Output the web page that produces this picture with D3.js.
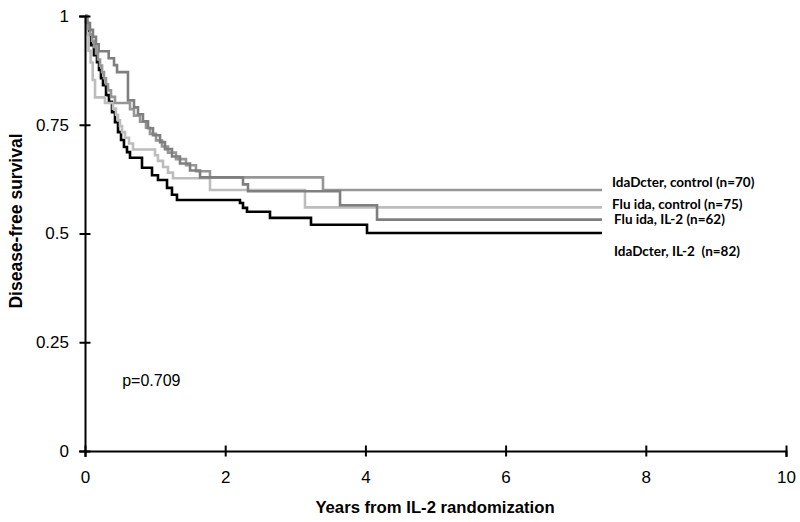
<!DOCTYPE html>
<html>
<head>
<meta charset="utf-8">
<script src="https://cdn.jsdelivr.net/npm/d3@7"></script>
<style>
  html, body { margin: 0; padding: 0; background: #fff; }
  svg { display: block; }
</style>
</head>
<body>
<svg id="chart" width="800" height="522"></svg>
<script>
// ---- Data ----
const xTicks = [0, 2, 4, 6, 8, 10];
const yTicks = [0, 0.25, 0.5, 0.75, 1];
const yTickLabels = ["0", "0.25", "0.5", "0.75", "1"];

const seriesNames = ["IdaDcter, control (n=70)", "Flu ida, control (n=75)", "Flu ida, IL-2 (n=62)", "IdaDcter, IL-2  (n=82)"];

// IdaDcter, IL-2 (n=82)
const idaIl2Time = [0, 0.029, 0.057, 0.086, 0.128, 0.171, 0.200, 0.228, 0.257, 0.300, 0.342, 0.385, 0.428, 0.471, 0.514, 0.556, 0.599, 0.642, 0.813, 0.956, 1.041, 1.170, 1.241, 1.312, 2.211, 2.254, 2.311, 2.639, 3.224, 4.023, 7.375];
const idaIl2Surv = [1, 0.979, 0.956, 0.933, 0.910, 0.894, 0.876, 0.857, 0.841, 0.818, 0.803, 0.779, 0.756, 0.733, 0.715, 0.699, 0.687, 0.674, 0.651, 0.634, 0.623, 0.605, 0.589, 0.577, 0.570, 0.559, 0.550, 0.536, 0.520, 0.501, 0.501];

// Flu ida, control (n=75)
const fluCtrlTime = [0, 0.02, 0.05, 0.08, 0.11, 0.143, 0.285, 0.399, 0.442, 0.471, 0.499, 0.528, 0.571, 0.628, 0.685, 0.999, 1.041, 1.113, 1.184, 1.255, 1.783, 3.138, 7.375];
const fluCtrlSurv = [1, 0.96, 0.92, 0.893, 0.853, 0.813, 0.800, 0.787, 0.773, 0.760, 0.747, 0.733, 0.720, 0.707, 0.693, 0.680, 0.667, 0.653, 0.640, 0.627, 0.600, 0.560, 0.560];

// IdaDcter, control (n=70)
const idaCtrlTime = [0, 0.014, 0.043, 0.071, 0.100, 0.128, 0.157, 0.185, 0.214, 0.243, 0.271, 0.300, 0.328, 0.371, 0.428, 0.642, 0.699, 0.785, 0.870, 0.927, 1.013, 1.098, 1.184, 1.298, 1.441, 1.583, 1.783, 3.395, 7.375];
const idaCtrlSurv = [1, 0.986, 0.971, 0.957, 0.943, 0.929, 0.914, 0.900, 0.886, 0.871, 0.857, 0.843, 0.829, 0.814, 0.800, 0.786, 0.771, 0.757, 0.743, 0.729, 0.714, 0.700, 0.686, 0.671, 0.657, 0.643, 0.629, 0.600, 0.600];

// Flu ida, IL-2 (n=62)
const fluIl2Time = [0, 0.029, 0.071, 0.114, 0.157, 0.195, 0.338, 0.414, 0.457, 0.613, 0.699, 0.756, 0.827, 0.899, 0.970, 1.070, 1.141, 1.241, 1.355, 1.498, 1.641, 2.254, 2.325, 3.638, 4.166, 7.375];
const fluIl2Surv = [1, 0.984, 0.968, 0.952, 0.935, 0.919, 0.903, 0.887, 0.871, 0.806, 0.790, 0.774, 0.758, 0.742, 0.726, 0.710, 0.694, 0.677, 0.661, 0.645, 0.629, 0.613, 0.597, 0.565, 0.532, 0.532];

const pValueText = "p=0.709";

// ---- Build ----
const svg = d3.select("#chart");
const x = d3.scaleLinear().domain([0, 10]).range([85, 786]);
const y = d3.scaleLinear().domain([0, 1]).range([451, 16]);

const curves = [
  { name: seriesNames[3], t: idaIl2Time, s: idaIl2Surv, color: "#000000" },
  { name: seriesNames[1], t: fluCtrlTime, s: fluCtrlSurv, color: "#bdbdbd" },
  { name: seriesNames[0], t: idaCtrlTime, s: idaCtrlSurv, color: "#969696" },
  { name: seriesNames[2], t: fluIl2Time, s: fluIl2Surv, color: "#7f7f7f" }
];

const line = d3.line().x(d => x(d[0])).y(d => y(d[1])).curve(d3.curveStepAfter);

curves.forEach(c => {
  const pts = c.t.map((t, i) => [t, c.s[i]]);
  svg.append("path")
    .attr("d", line(pts))
    .attr("fill", "none")
    .attr("stroke", c.color)
    .attr("stroke-width", 2.6)
    .attr("stroke-linejoin", "miter");
});

// Axes
const xAxis = svg.append("g").attr("transform", `translate(0,${y(0)})`)
  .call(d3.axisBottom(x).tickValues(xTicks).tickFormat(d3.format("d")).tickSize(6).tickPadding(14));
xAxis.select(".domain").attr("stroke", "#000").attr("stroke-width", 2);
xAxis.selectAll(".tick line").attr("y1", -5.5).attr("y2", 5.5).attr("stroke", "#000").attr("stroke-width", 2);
xAxis.selectAll(".tick text").attr("font-family", "Liberation Sans, Arial, sans-serif").attr("font-size", 17).attr("fill", "#000");

const yAxis = svg.append("g").attr("transform", `translate(${x(0)},0)`)
  .call(d3.axisLeft(y).tickValues(yTicks).tickFormat((d, i) => yTickLabels[i]).tickSize(6).tickPadding(10));
yAxis.select(".domain").attr("stroke", "#000").attr("stroke-width", 2);
yAxis.selectAll(".tick line").attr("x1", -5.5).attr("x2", 5.5).attr("stroke", "#000").attr("stroke-width", 2);
yAxis.selectAll(".tick text").attr("font-family", "Liberation Sans, Arial, sans-serif").attr("font-size", 17).attr("fill", "#000");

// Axis titles
svg.append("text")
  .attr("x", 435).attr("y", 513)
  .attr("text-anchor", "middle")
  .attr("font-family", "Liberation Sans, Arial, sans-serif")
  .attr("font-weight", "bold").attr("font-size", 16.7)
  .text("Years from IL-2 randomization");

svg.append("text")
  .attr("transform", "translate(22,221) rotate(-90)")
  .attr("text-anchor", "middle")
  .attr("font-family", "Liberation Sans, Arial, sans-serif")
  .attr("font-weight", "bold")
  .attr("font-size", 17.5)
  .text("Disease-free survival");

// p-value
svg.append("text")
  .attr("x", x(0.53)).attr("y", 386)
  .attr("font-family", "Liberation Sans, Arial, sans-serif")
  .attr("font-size", 16)
  .text(pValueText);

// Series labels
const labelY = [187, 209, 224, 256];
const labelX = [612, 612, 614, 614];
seriesNames.forEach((name, i) => {
  svg.append("text")
    .attr("x", labelX[i]).attr("y", labelY[i])
    .attr("font-family", "Lato, sans-serif")
    .attr("font-weight", "bold").attr("font-size", 13.5)
    .attr("fill", "#000")
    .style("white-space", "pre")
    .text(name);
});
</script>
</body>
</html>
